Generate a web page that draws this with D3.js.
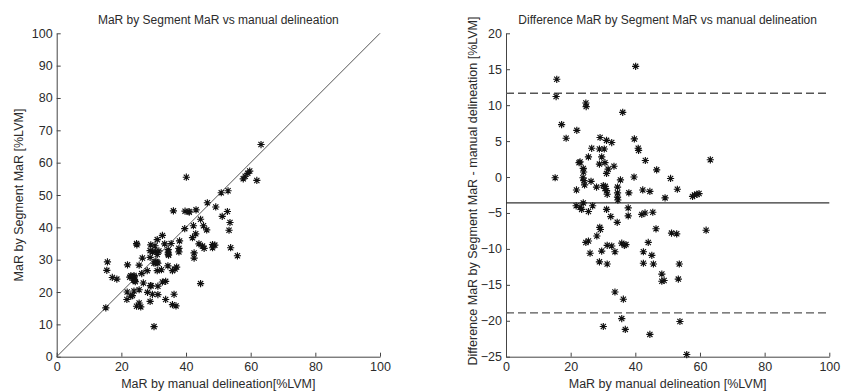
<!DOCTYPE html>
<html><head><meta charset="utf-8">
<script src="https://cdn.jsdelivr.net/npm/d3@7"></script>
<style>
body{margin:0;background:#fff}
svg text{font-family:"Liberation Sans",Arial,sans-serif;fill:#2b2b2b}
</style>
</head><body>
<svg id="c" width="841" height="391"></svg>
<script>
// MaR by manual delineation [%LVM]
const manual = [15.2,15.7,15.5,17.2,18.6,21.9,24.7,24.8,36.1,40.1,39.7,40.9,41.0,43.1,46.6,50.9,53.0,49.2,57.7,58.3,59.1,59.7,63.2,61.9,39.6,38.0,42.3,44.5,35.4,34.5,34.5,34.5,34.6,29.1,31.1,32.7,26.5,25.5,28.9,30.4,29.6,28.9,30.6,33.4,31.6,31.1,22.6,22.9,23.9,24.0,23.8,24.1,24.3,21.8,26.3,28.0,30.1,30.6,30.7,31.1,31.3,21.7,22.9,23.4,23.9,25.5,26.8,31.1,32.4,34.4,37.8,37.8,42.0,43.0,45.4,24.7,25.5,26.0,28.1,29.0,29.2,29.6,28.9,31.3,31.3,32.7,33.7,35.8,36.6,37.1,33.7,36.3,35.8,30.1,36.9,44.5,46.4,44.0,42.5,42.5,45.1,45.6,48.2,48.2,48.9,51.2,52.8,53.6,53.3,53.8,55.9];
// MaR by Segment [%LVM]
const segment = [15.1,29.3,26.7,24.5,24.0,28.4,35.0,34.6,45.1,55.5,45.0,44.9,44.7,45.4,47.6,50.7,51.3,46.3,55.0,55.8,56.7,57.4,65.6,54.5,39.6,35.8,40.5,42.5,35.0,33.1,32.3,31.7,31.4,34.6,36.2,37.5,30.5,28.3,32.8,34.3,32.4,30.7,32.6,34.9,32.7,31.6,24.6,25.0,25.1,24.7,23.7,23.6,23.2,20.0,25.7,26.6,28.9,29.0,29.4,29.2,28.9,17.7,18.7,18.9,20.3,20.7,22.8,26.6,26.9,28.1,33.5,32.4,36.8,38.0,40.5,15.6,16.6,15.4,19.9,22.0,21.9,19.3,17.1,21.8,19.2,23.1,23.3,26.6,27.1,27.7,17.7,19.3,16.1,9.3,15.7,22.6,39.2,34.9,32.1,30.5,34.2,33.5,34.7,33.7,34.5,43.4,44.9,41.5,39.1,33.7,31.2];
// Bland-Altman reference lines: upper limit, mean difference, lower limit
const baLines = [11.65, -3.6, -18.9];
const xTicks = [0,20,40,60,80,100];
const yTicksLeft = [0,10,20,30,40,50,60,70,80,90,100];
const yTicksRight = [-25,-20,-15,-10,-5,0,5,10,15,20];
const titles = ["MaR by Segment MaR vs manual delineation","Difference MaR by Segment MaR vs manual delineation"];
const xLabels = ["MaR by manual delineation[%LVM]","MaR by manual delineation [%LVM]"];
const yLabels = ["MaR by Segment MaR [%LVM]","Difference MaR by Segment MaR - manual delineation [%LVM]"];

const diff = segment.map((s,i)=>s-manual[i]);
const svg = d3.select("#c");
const axisCol = "#444";
const FS = 12.5;

function star(g, pts, x, y){
  const r = 3.6, d = 2.6;
  const p = `M${-r},0L${r},0M0,${-r}L0,${r}M${-d},${-d}L${d},${d}M${-d},${d}L${d},${-d}`;
  g.selectAll("path.pt").data(pts).join("path").attr("class","pt")
    .attr("transform",p0=>`translate(${x(p0[0])},${y(p0[1])})`)
    .attr("d",p).attr("stroke","#111").attr("stroke-width",1.15).attr("fill","none");
}

function styleAxis(g){
  g.attr("font-size",FS).attr("font-family",null);
  g.select(".domain").attr("stroke",axisCol).attr("stroke-width",1);
  g.selectAll(".tick line").attr("stroke",axisCol);
  g.selectAll(".tick text").attr("fill","#2b2b2b");
}

function panel(i, x0, x1, yDom, yTicks){
  const top = 33.3, bot = 356.7;
  const x = d3.scaleLinear().domain([0,100]).range([x0,x1]);
  const y = d3.scaleLinear().domain(yDom).range([bot,top]);
  const g = svg.append("g");
  g.append("g").attr("transform",`translate(0,${bot})`)
    .call(d3.axisBottom(x).tickValues(xTicks).tickSizeInner(-4).tickSizeOuter(0).tickPadding(5))
    .call(styleAxis);
  g.append("g").attr("transform",`translate(${x0},0)`)
    .call(d3.axisLeft(y).tickValues(yTicks).tickSizeInner(-4).tickSizeOuter(0).tickPadding(4))
    .call(styleAxis);
  g.append("text").attr("x",(x0+x1)/2).attr("y",24).attr("text-anchor","middle")
    .attr("font-size",12).text(titles[i]);
  g.append("text").attr("x",(x0+x1)/2).attr("y",388).attr("text-anchor","middle")
    .attr("font-size",FS).text(xLabels[i]);
  return {g,x,y};
}

// Left: scatter with identity line
const L = panel(0, 56.7, 380, [0,100], yTicksLeft);
L.g.append("line").attr("x1",L.x(0)).attr("y1",L.y(0)).attr("x2",L.x(100)).attr("y2",L.y(100))
  .attr("stroke","#555").attr("stroke-width",1);
L.g.append("text").attr("transform",`translate(23,195) rotate(-90)`).attr("text-anchor","middle")
  .attr("font-size",FS).text(yLabels[0]);
star(L.g, manual.map((m,i)=>[m,segment[i]]), L.x, L.y);

// Right: Bland-Altman
const R = panel(1, 506, 829.3, [-25,20], yTicksRight);
R.g.selectAll("line.ba").data(baLines).join("line").attr("class","ba")
  .attr("x1",R.x(0)).attr("x2",R.x(100)).attr("y1",d=>R.y(d)).attr("y2",d=>R.y(d))
  .attr("stroke",(d,i)=>i===1?"#333":"#555").attr("stroke-width",(d,i)=>i===1?1.2:1.4)
  .attr("stroke-dasharray",(d,i)=>i===1?null:"8,4");
R.g.append("text").attr("transform",`translate(477,191) rotate(-90)`).attr("text-anchor","middle")
  .attr("font-size",FS).text(yLabels[1]);
star(R.g, manual.map((m,i)=>[m,diff[i]]), R.x, R.y);
</script>
</body></html>
